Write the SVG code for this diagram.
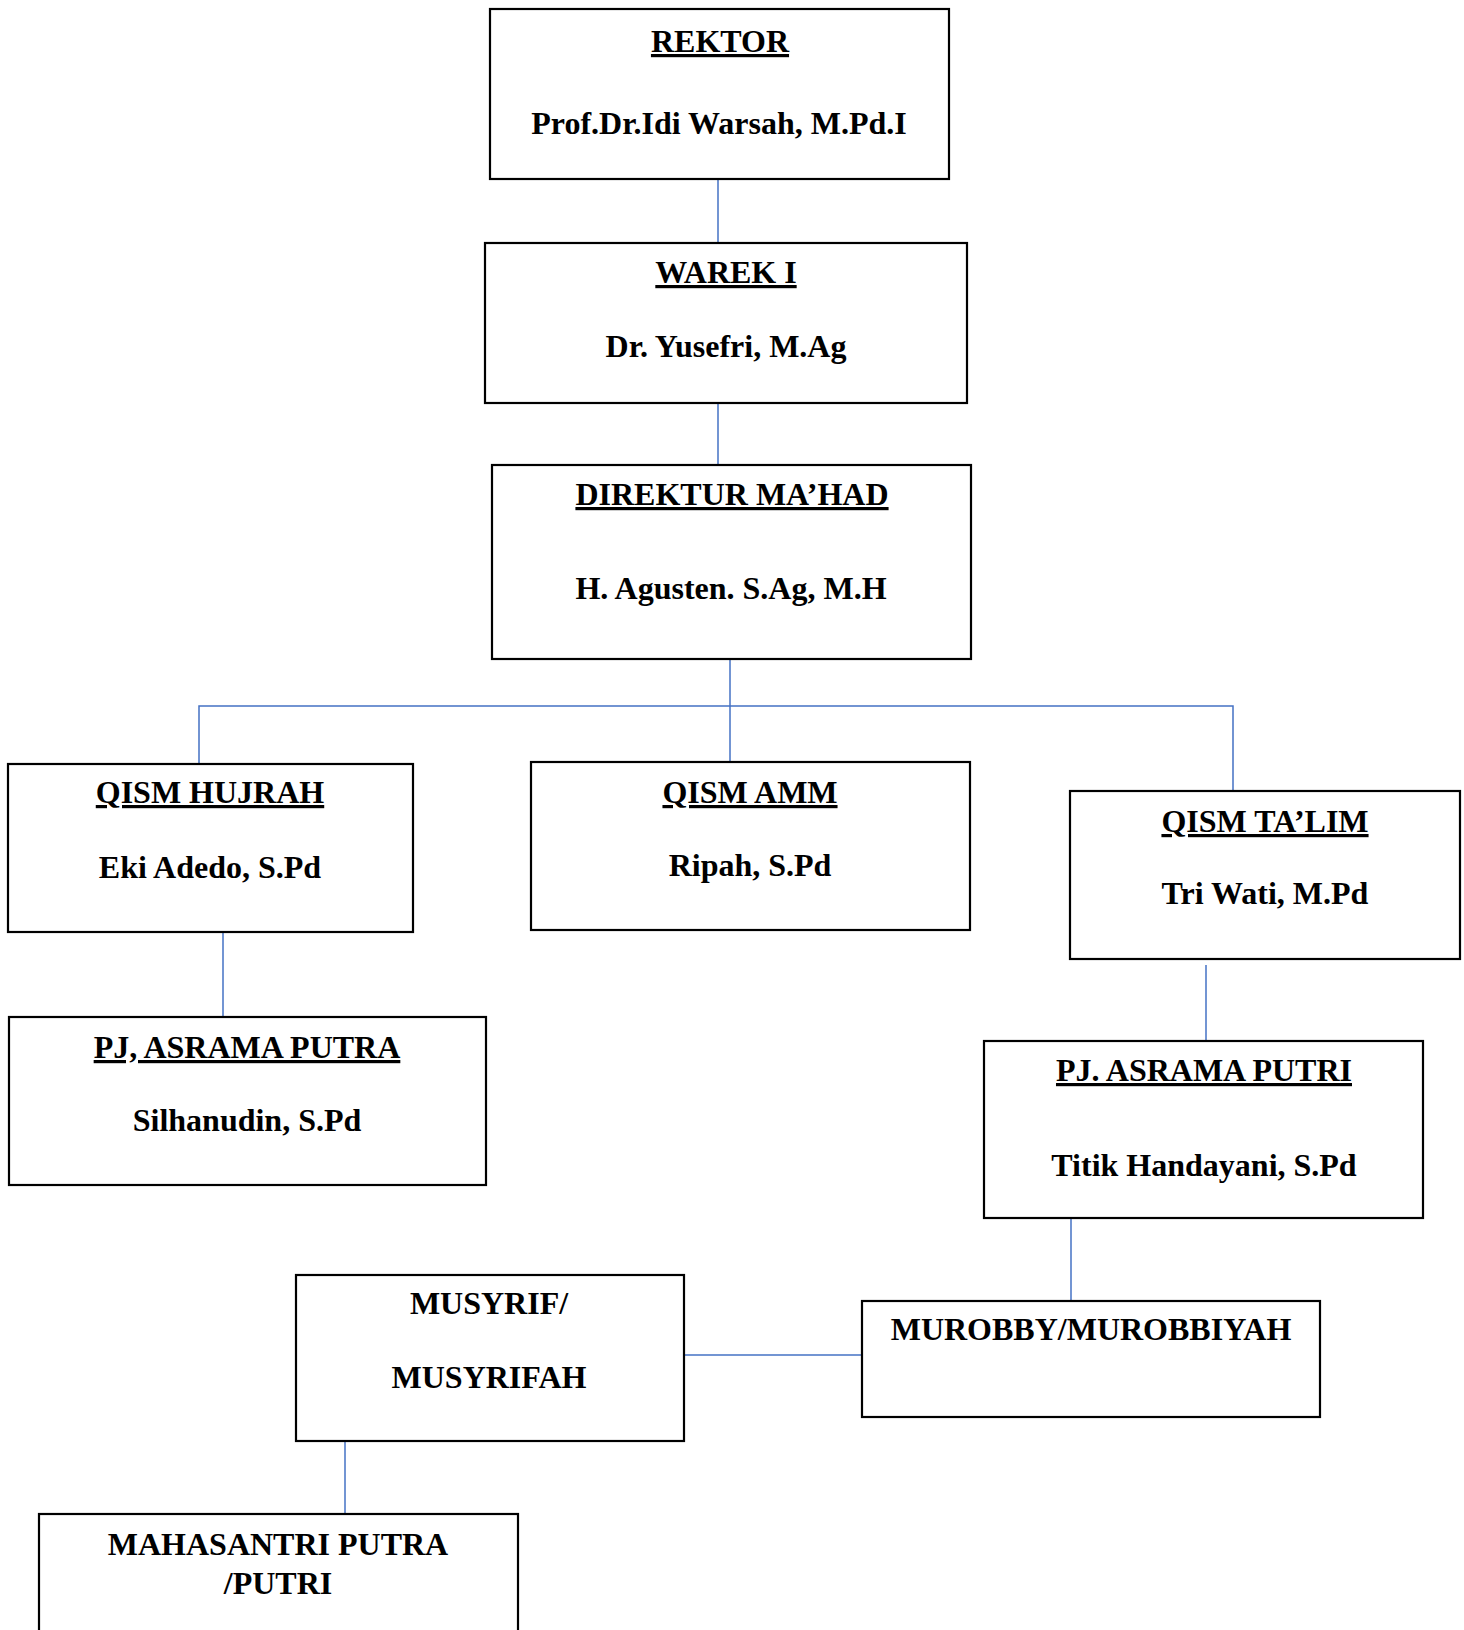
<svg xmlns="http://www.w3.org/2000/svg" width="1464" height="1630" viewBox="0 0 1464 1630">
<style>
.box{fill:#fff;stroke:#000;stroke-width:2.2}
.t{font-family:"Liberation Serif","Times New Roman",serif;font-weight:bold;font-size:32px;fill:#000;text-anchor:middle}
.u{text-decoration:underline;text-decoration-thickness:3px}
.c{stroke:#4472C4;stroke-width:1.5;fill:none}
</style>
<rect width="1464" height="1630" fill="#fff"/>
<g id="connectors">
<line class="c" x1="718" y1="179" x2="718" y2="243"/>
<line class="c" x1="718" y1="403" x2="718" y2="465"/>
<line class="c" x1="730" y1="659" x2="730" y2="762"/>
<polyline class="c" points="199,764 199,706 1233,706 1233,791"/>
<line class="c" x1="223" y1="932" x2="223" y2="1017"/>
<line class="c" x1="1206" y1="965" x2="1206" y2="1041"/>
<line class="c" x1="1071" y1="1218" x2="1071" y2="1301"/>
<line class="c" x1="684" y1="1355" x2="862" y2="1355"/>
<line class="c" x1="345" y1="1441" x2="345" y2="1514"/>
</g>
<g id="rektor">
<rect class="box" x="490" y="9" width="459" height="170"/>
<text class="t u" x="720" y="52">REKTOR</text>
<text class="t" x="719" y="134">Prof.Dr.Idi Warsah, M.Pd.I</text>
</g>
<g id="warek">
<rect class="box" x="485" y="243" width="482" height="160"/>
<text class="t u" x="726" y="283">WAREK I</text>
<text class="t" x="726" y="357">Dr. Yusefri, M.Ag</text>
</g>
<g id="direktur">
<rect class="box" x="492" y="465" width="479" height="194"/>
<text class="t u" x="732" y="505">DIREKTUR MA’HAD</text>
<text class="t" x="731" y="599">H. Agusten. S.Ag, M.H</text>
</g>
<g id="qism-hujrah">
<rect class="box" x="8" y="764" width="405" height="168"/>
<text class="t u" x="210" y="803">QISM HUJRAH</text>
<text class="t" x="210" y="878">Eki Adedo, S.Pd</text>
</g>
<g id="qism-amm">
<rect class="box" x="531" y="762" width="439" height="168"/>
<text class="t u" x="750" y="803">QISM AMM</text>
<text class="t" x="750" y="876">Ripah, S.Pd</text>
</g>
<g id="qism-talim">
<rect class="box" x="1070" y="791" width="390" height="168"/>
<text class="t u" x="1265" y="832">QISM TA’LIM</text>
<text class="t" x="1265" y="904">Tri Wati, M.Pd</text>
</g>
<g id="pj-putra">
<rect class="box" x="9" y="1017" width="477" height="168"/>
<text class="t u" x="247" y="1058">PJ, ASRAMA PUTRA</text>
<text class="t" x="247" y="1131">Silhanudin, S.Pd</text>
</g>
<g id="pj-putri">
<rect class="box" x="984" y="1041" width="439" height="177"/>
<text class="t u" x="1204" y="1081">PJ. ASRAMA PUTRI</text>
<text class="t" x="1204" y="1176">Titik Handayani, S.Pd</text>
</g>
<g id="murobby">
<rect class="box" x="862" y="1301" width="458" height="116"/>
<text class="t" x="1091" y="1340">MUROBBY/MUROBBIYAH</text>
</g>
<g id="musyrif">
<rect class="box" x="296" y="1275" width="388" height="166"/>
<text class="t" x="489" y="1314">MUSYRIF/</text>
<text class="t" x="489" y="1388">MUSYRIFAH</text>
</g>
<g id="mahasantri">
<rect class="box" x="39" y="1514" width="479" height="160"/>
<text class="t" x="278" y="1555">MAHASANTRI PUTRA</text>
<text class="t" x="278" y="1594">/PUTRI</text>
</g>
</svg>
